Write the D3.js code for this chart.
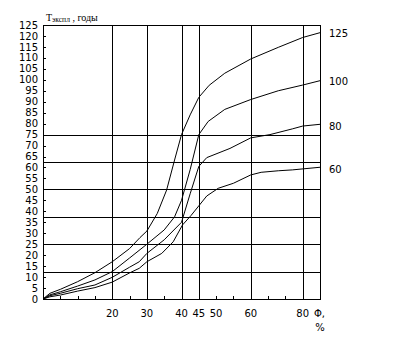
<!DOCTYPE html>
<html>
<head>
<meta charset="utf-8">
<script src="https://cdn.jsdelivr.net/npm/d3@7"></script>
<style>
  body { margin: 0; background: #fff; }
  svg { display: block; }
</style>
</head>
<body>
<div id="chart_root"></div>
<script>
// y tick labels 0..125 step 5
const yTicks = d3.range(0, 126, 5);
// x labels and where the grid goes
const xLabels = [20, 30, 40, 45, 50, 60, 80];
const xGrid = [20, 30, 40, 45, 60, 80];
const yGrid = [12.5, 25, 37.5, 50, 62.5, 75];
// small ticks on the bottom axis
const xTickVals = [5, 10, 15, 20, 25, 30, 35, 40, 45, 50, 55, 60, 66.67, 73.33, 80];

// curves (Φ %, T years)
const phi125 = [0, 2, 5, 10, 15, 20, 25, 28, 30, 33, 35.7, 38, 40, 42.5, 45, 48, 52.5, 60, 70.6, 80, 86.67];
const t125 = [0, 2.6, 4.4, 7.9, 12, 17, 23, 28, 31, 39, 49.7, 63.4, 75, 84, 92, 97.5, 103, 109.5, 114.8, 119.3, 121.5];

const phi100 = [0, 2, 5, 10, 15, 20, 25, 30, 35, 38, 40, 42.5, 45, 47.7, 52.5, 60, 70.6, 80, 86.67];
const t100 = [0, 1.9, 3.3, 5.9, 8.7, 12.5, 18.7, 25, 31.5, 37.5, 45, 59, 75, 81, 86.5, 91, 95, 97.6, 99.6];

const phi80 = [0, 2, 5, 10, 15, 20, 25, 27.8, 30, 35, 40, 42.5, 45, 47.3, 54, 60, 67.4, 76, 80, 86.67];
const t80 = [0, 1.5, 2.6, 4.7, 6.4, 9.9, 14.5, 17, 20.8, 27, 35, 48, 60.5, 64.5, 68.7, 73.5, 75, 77.6, 78.9, 79.7];

const phi60 = [0, 2, 5, 10, 15, 20, 25, 27.8, 30, 34.3, 37.6, 40.3, 42.7, 45, 47.3, 50.6, 55, 60, 64, 70.6, 76, 86.67];
const t60 = [0, 1, 1.8, 3.6, 5.2, 7.7, 11.9, 14, 17, 20.8, 26.1, 33.8, 38, 42.5, 47, 50.5, 52.8, 56.6, 57.8, 58.5, 58.9, 60.1];

const curveNames = ["125", "100", "80", "60"];
const curves = [
    { name: curveNames[0], phi: phi125, t: t125 },
    { name: curveNames[1], phi: phi100, t: t100 },
    { name: curveNames[2], phi: phi80, t: t80 },
    { name: curveNames[3], phi: phi60, t: t60 }
];

const margin = { top: 25, right: 94, bottom: 54, left: 43 };
const width = 414 - margin.left - margin.right;
const height = 353 - margin.top - margin.bottom;
const step = width / 16;

const svg = d3.select("#chart_root")
    .append("svg")
    .attr("width", 414)
    .attr("height", 353)
    .append("g")
    .attr("transform", "translate(" + margin.left + "," + margin.top + ")");

// x is not linear on the original: 5 % per step up to 60, then 80 at step 15
const x = d3.scaleLinear()
    .domain([0, 60, 80])
    .range([0, 12 * step, 15 * step]);
const y = d3.scaleLinear()
    .domain([0, 125])
    .range([height, 0]);

const grid = svg.append("g")
    .attr("stroke", "#000")
    .attr("stroke-width", 1)
    .attr("shape-rendering", "crispEdges");

grid.selectAll(".hg")
    .data(yGrid)
    .enter()
    .append("line")
    .attr("x1", 0)
    .attr("x2", width)
    .attr("y1", d => Math.round(y(d)) + 0.5)
    .attr("y2", d => Math.round(y(d)) + 0.5);

grid.selectAll(".vg")
    .data(xGrid)
    .enter()
    .append("line")
    .attr("x1", d => Math.round(x(d)) + 0.5)
    .attr("x2", d => Math.round(x(d)) + 0.5)
    .attr("y1", 0)
    .attr("y2", height);

// frame
grid.append("rect")
    .attr("x", 0.5)
    .attr("y", 0.5)
    .attr("width", width - 0.5)
    .attr("height", height - 0.5)
    .attr("fill", "none");

// inward ticks
grid.selectAll(".yt")
    .data(yTicks)
    .enter()
    .append("line")
    .attr("x1", 0)
    .attr("x2", 3)
    .attr("y1", d => Math.round(y(d)) + 0.5)
    .attr("y2", d => Math.round(y(d)) + 0.5);

grid.selectAll(".xt")
    .data(xTickVals)
    .enter()
    .append("line")
    .attr("x1", d => Math.round(x(d)) + 0.5)
    .attr("x2", d => Math.round(x(d)) + 0.5)
    .attr("y1", height)
    .attr("y2", height - 3);

const labelFont = "DejaVu Sans, Verdana, sans-serif";

svg.append("g")
    .selectAll("text")
    .data(yTicks)
    .enter()
    .append("text")
    .attr("x", -5)
    .attr("y", d => y(d))
    .attr("dy", "0.36em")
    .attr("text-anchor", "end")
    .style("font-family", labelFont)
    .style("font-size", "10px")
    .text(d => d);

svg.append("g")
    .selectAll("text")
    .data(xLabels)
    .enter()
    .append("text")
    .attr("x", d => x(d))
    .attr("y", height + 14)
    .attr("dy", "0.36em")
    .attr("text-anchor", "middle")
    .style("font-family", labelFont)
    .style("font-size", "10px")
    .text(d => d);

svg.append("text")
    .attr("x", width - 6)
    .attr("y", height + 14)
    .attr("dy", "0.36em")
    .style("font-family", labelFont)
    .style("font-size", "10px")
    .text("Φ,");

svg.append("text")
    .attr("x", width)
    .attr("y", height + 28)
    .attr("dy", "0.36em")
    .attr("text-anchor", "middle")
    .style("font-family", labelFont)
    .style("font-size", "10px")
    .text("%");

// title
const title = svg.append("text")
    .attr("x", 3)
    .attr("y", -4)
    .style("font-family", "Liberation Serif, Times New Roman, serif")
    .style("font-size", "10px");
title.append("tspan").text("Т");
title.append("tspan").attr("dy", 1).style("font-size", "7.5px").text("экспл");
title.append("tspan").attr("dy", -1).text(" , годы");

const line = d3.line()
    .x(d => x(d[0]))
    .y(d => y(d[1]));

svg.append("g")
    .selectAll("path")
    .data(curves)
    .enter()
    .append("path")
    .attr("d", c => line(c.phi.map((p, i) => [p, c.t[i]])))
    .attr("fill", "none")
    .attr("stroke", "#000")
    .attr("stroke-width", 1);

svg.append("g")
    .selectAll("text")
    .data(curves)
    .enter()
    .append("text")
    .attr("x", width + 9)
    .attr("y", (c, i) => y(c.t[c.t.length - 1]) + (i < 2 ? 0.5 : 2.5))
    .attr("dy", "0.36em")
    .style("font-family", labelFont)
    .style("font-size", "10px")
    .text(c => c.name);
</script>
</body>
</html>
